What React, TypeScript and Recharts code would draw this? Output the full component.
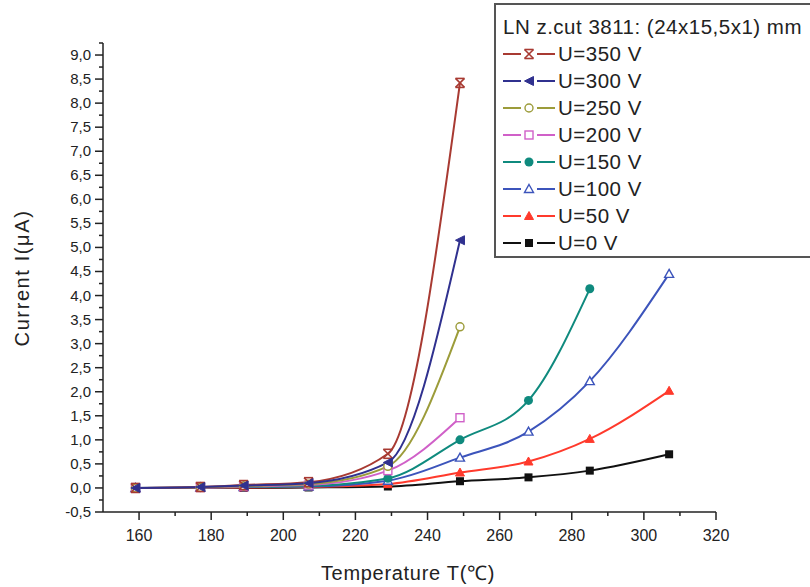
import { LineChart, Line, XAxis, YAxis, Legend } from "recharts";

// temperature (°C) of each measurement
const temps = [159, 177, 189, 207, 229, 249, 268, 285, 307];

// current in µA for each bias voltage
const u350 = [0, 0.02, 0.06, 0.12, 0.71, 8.42];
const u300 = [0, 0.02, 0.05, 0.1, 0.53, 5.15];
const u250 = [0, 0.01, 0.04, 0.08, 0.45, 3.35];
const u200 = [0, 0.01, 0.03, 0.06, 0.36, 1.46];
const u150 = [0, 0.01, 0.02, 0.04, 0.2, 1.0, 1.82, 4.14];
const u100 = [0, 0.01, 0.02, 0.03, 0.15, 0.63, 1.17, 2.22, 4.45];
const u50 = [0, 0, 0.01, 0.02, 0.08, 0.32, 0.55, 1.02, 2.02];
const u0 = [0, 0, 0, 0.01, 0.03, 0.14, 0.22, 0.36, 0.7];

const xTicks = [160, 170, 180, 190, 200, 210, 220, 230, 240, 250, 260, 270, 280, 290, 300, 310, 320];
const yTicks = [
  -0.5, -0.25, 0, 0.25, 0.5, 0.75, 1, 1.25, 1.5, 1.75, 2, 2.25, 2.5, 2.75, 3, 3.25, 3.5, 3.75, 4,
  4.25, 4.5, 4.75, 5, 5.25, 5.5, 5.75, 6, 6.25, 6.5, 6.75, 7, 7.25, 7.5, 7.75, 8, 8.25, 8.5, 8.75,
  9, 9.25,
];

const legendTitle = "LN z.cut 3811: (24x15,5x1) mm";

const series = [
  { key: "u350", name: "U=350 V", values: u350, color: "#a83a32", shape: "star" },
  { key: "u300", name: "U=300 V", values: u300, color: "#30318f", shape: "triLeft" },
  { key: "u250", name: "U=250 V", values: u250, color: "#9c9c3a", shape: "circleOpen" },
  { key: "u200", name: "U=200 V", values: u200, color: "#d060c8", shape: "squareOpen" },
  { key: "u150", name: "U=150 V", values: u150, color: "#0f8a7e", shape: "circle" },
  { key: "u100", name: "U=100 V", values: u100, color: "#3c54bb", shape: "triUpOpen" },
  { key: "u50", name: "U=50 V", values: u50, color: "#ff3a2c", shape: "triUp" },
  { key: "u0", name: "U=0 V", values: u0, color: "#111111", shape: "square" },
];

const data = temps.map((t, i) => {
  const row: Record<string, number | undefined> = { T: t };
  series.forEach((s) => {
    row[s.key] = s.values[i];
  });
  return row;
});

// blue series drawn last so it sits on top at low temperatures
const drawOrder = ["u0", "u50", "u100", "u150", "u200", "u250", "u350", "u300"];

const FONT = '"Liberation Sans", Arial, sans-serif';

function Marker({ cx, cy, shape, color }: { cx: number; cy: number; shape: string; color: string }) {
  const r = 4.5;
  switch (shape) {
    case "star":
      return (
        <g stroke={color} strokeWidth={1.6} fill="none">
          <line x1={cx - r} y1={cy - r} x2={cx + r} y2={cy + r} />
          <line x1={cx - r} y1={cy + r} x2={cx + r} y2={cy - r} />
          <line x1={cx - r} y1={cy - r} x2={cx + r} y2={cy - r} />
          <line x1={cx - r} y1={cy + r} x2={cx + r} y2={cy + r} />
        </g>
      );
    case "triLeft":
      return <polygon points={`${cx - r},${cy} ${cx + r},${cy - r} ${cx + r},${cy + r}`} fill={color} stroke={color} strokeWidth={1} />;
    case "circleOpen":
      return <circle cx={cx} cy={cy} r={4} fill="#fff" stroke={color} strokeWidth={1.4} />;
    case "squareOpen":
      return <rect x={cx - 4} y={cy - 4} width={8} height={8} fill="#fff" stroke={color} strokeWidth={1.4} />;
    case "circle":
      return <circle cx={cx} cy={cy} r={r} fill={color} />;
    case "triUpOpen":
      return <polygon points={`${cx},${cy - r} ${cx + r},${cy + r - 1} ${cx - r},${cy + r - 1}`} fill="#fff" stroke={color} strokeWidth={1.4} />;
    case "triUp":
      return <polygon points={`${cx},${cy - r} ${cx + r},${cy + r - 1} ${cx - r},${cy + r - 1}`} fill={color} stroke={color} strokeWidth={1} />;
    default:
      return <rect x={cx - 4} y={cy - 4} width={8} height={8} fill={color} />;
  }
}

const XTick = (props: any) => {
  const { x, y, payload } = props;
  const major = payload.value % 20 === 0;
  return (
    <g>
      <line x1={x} y1={y} x2={x} y2={y + (major ? 8 : 4)} stroke="#222" strokeWidth={1.5} />
      {major && (
        <text x={x} y={y + 29} textAnchor="middle" fontSize={16} fontFamily={FONT} fill="#222">
          {payload.value}
        </text>
      )}
    </g>
  );
};

const YTick = (props: any) => {
  const { x, y, payload } = props;
  const v = payload.value as number;
  const major = Math.abs((v * 2) % 1) < 1e-9;
  const showLabel = major && v <= 9;
  return (
    <g>
      <line x1={x} y1={y} x2={x - (major ? 8 : 4)} y2={y} stroke="#222" strokeWidth={1.5} />
      {showLabel && (
        <text x={x - 12} y={y + 5} textAnchor="end" fontSize={15} fontFamily={FONT} fill="#222">
          {v.toFixed(1).replace(".", ",")}
        </text>
      )}
    </g>
  );
};

const LegendBox = () => (
  <div
    style={{
      width: 340,
      height: 255,
      border: "2px solid #555",
      boxSizing: "border-box",
      background: "#fff",
      paddingTop: 8,
      paddingLeft: 7,
      fontFamily: FONT,
      fontSize: 20.5,
      letterSpacing: 0.5,
      color: "#222",
    }}
  >
    <div style={{ height: 27, lineHeight: "27px", whiteSpace: "nowrap" }}>{legendTitle}</div>
    {series.map((s) => (
      <div key={s.key} style={{ height: 27, display: "flex", alignItems: "center", whiteSpace: "nowrap" }}>
        <svg width={52} height={16} style={{ marginRight: 3 }}>
          <line x1={0} y1={8} x2={18} y2={8} stroke={s.color} strokeWidth={2} />
          <line x1={34} y1={8} x2={52} y2={8} stroke={s.color} strokeWidth={2} />
          <Marker cx={26} cy={8} shape={s.shape} color={s.color} />
        </svg>
        <span>{s.name}</span>
      </div>
    ))}
  </div>
);

export default function App() {
  return (
    <div style={{ position: "absolute", left: 0, top: 0, width: 810, height: 587, overflow: "hidden", background: "#fff" }}>
      <LineChart width={810} height={587} data={data} margin={{ top: 43, right: 94, bottom: 74, left: 102 }}>
        <XAxis
          dataKey="T"
          type="number"
          domain={[150, 320]}
          ticks={xTicks}
          interval={0}
          height={1}
          tickSize={0}
          tickMargin={0}
          tickLine={false}
          tick={<XTick />}
          axisLine={{ stroke: "#222", strokeWidth: 1.5 }}
          allowDataOverflow
        />
        <YAxis
          type="number"
          domain={[-0.5, 9.25]}
          ticks={yTicks}
          interval={0}
          width={1}
          tickSize={0}
          tickMargin={0}
          tickLine={false}
          tick={<YTick />}
          axisLine={{ stroke: "#222", strokeWidth: 1.5 }}
          allowDataOverflow
        />
        <Legend
          layout="vertical"
          align="center"
          verticalAlign="middle"
          wrapperStyle={{ left: 494, top: 3, width: 340, height: 255 }}
          content={() => <LegendBox />}
        />
        {drawOrder.map((k) => {
          const s = series.find((x) => x.key === k)!;
          return (
            <Line
              key={s.key}
              dataKey={s.key}
              name={s.name}
              type="monotone"
              stroke={s.color}
              strokeWidth={2}
              isAnimationActive={false}
              connectNulls={false}
              dot={(p: any) =>
                p.cy == null || p.value == null ? (
                  <g key={p.index} />
                ) : (
                  <Marker key={p.index} cx={p.cx} cy={p.cy} shape={s.shape} color={s.color} />
                )
              }
              activeDot={false}
            />
          );
        })}
      </LineChart>
      <div
        style={{
          position: "absolute",
          left: 408,
          top: 572,
          transform: "translate(-50%, -50%)",
          fontFamily: FONT,
          fontSize: 20,
          letterSpacing: 0.7,
          color: "#222",
          whiteSpace: "nowrap",
        }}
      >
        Temperature T(℃)
      </div>
      <div
        style={{
          position: "absolute",
          left: 22,
          top: 278,
          transform: "translate(-50%, -50%) rotate(-90deg)",
          fontFamily: FONT,
          fontSize: 20,
          letterSpacing: 1.6,
          color: "#222",
          whiteSpace: "nowrap",
        }}
      >
        Current I(μA)
      </div>
    </div>
  );
}
